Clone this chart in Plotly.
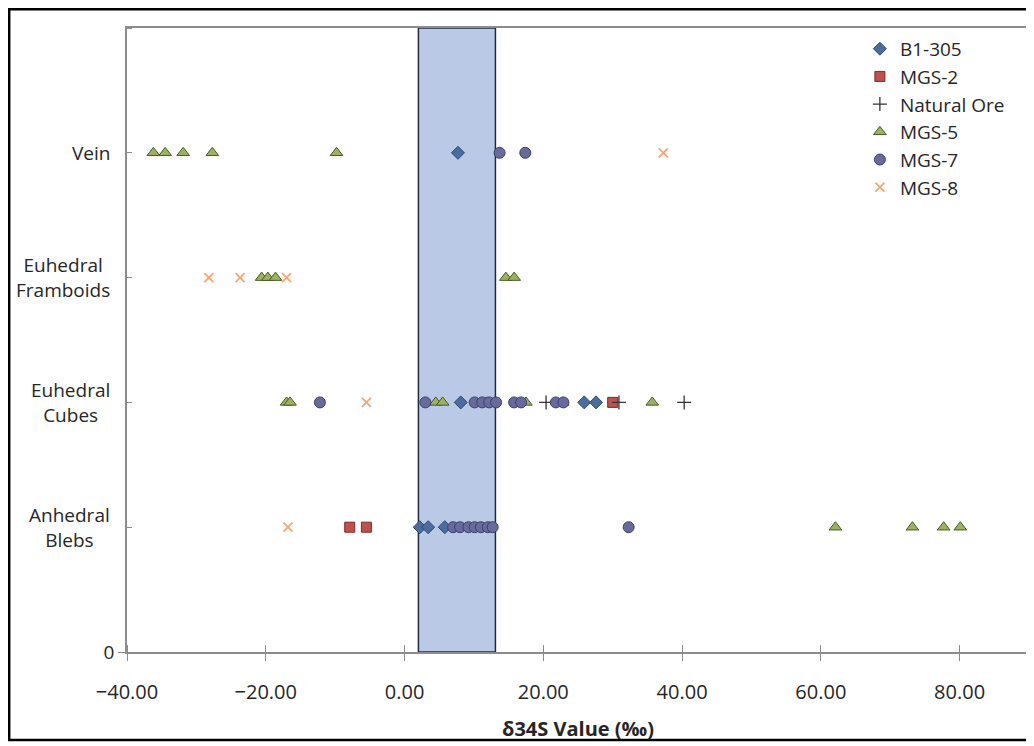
import plotly.graph_objects as go

# Category positions on the y axis
category_labels = ["Anhedral<br>Blebs", "Euhedral<br>Cubes", "Euhedral<br>Framboids", "Vein"]
category_keys = ["Blebs", "Cubes", "Framboids", "Vein"]
cat_pos = {k: i + 1 for i, k in enumerate(category_keys)}

# Series data: (category, d34S value)
b1_305_cat = ["Vein", "Cubes", "Cubes", "Cubes", "Blebs", "Blebs", "Blebs"]
b1_305_val = [7.7, 8.1, 25.9, 27.6, 2.2, 3.4, 5.8]

mgs2_cat = ["Cubes", "Blebs", "Blebs"]
mgs2_val = [30.0, -7.9, -5.5]

natural_cat = ["Cubes", "Cubes", "Cubes"]
natural_val = [20.4, 30.9, 40.3]

mgs5_cat = ["Vein"] * 5 + ["Framboids"] * 5 + ["Cubes"] * 8 + ["Blebs"] * 4
mgs5_val = [-36.2, -34.5, -31.9, -27.7, -9.8,
            -20.6, -19.7, -18.6, 14.6, 15.8,
            -17.0, -16.5, 4.5, 5.5, 11.8, 17.5, 22.8, 35.7,
            62.1, 73.2, 77.7, 80.1]

mgs7_cat = ["Vein"] * 2 + ["Cubes"] * 10 + ["Blebs"] * 8
mgs7_val = [13.7, 17.4,
            -12.2, 3.0, 10.1, 11.2, 12.2, 13.2, 15.8, 16.8, 21.8, 22.9,
            7.0, 8.0, 9.2, 10.1, 11.0, 12.0, 12.7, 32.3]

mgs8_cat = ["Vein", "Framboids", "Framboids", "Framboids", "Cubes", "Blebs"]
mgs8_val = [37.3, -28.2, -23.7, -17.0, -5.5, -16.8]

band_range = [2.0, 13.1]

x_ticks = [-40, -20, 0, 20, 40, 60, 80]
y_ticks = [0, 1, 2, 3, 4, 5]
y_ticklabels = ["0", "", "", "", "", ""]

FONT = "Open Sans"
TEXT = "#262626"
AXIS = "#8C8C8C"

fig = go.Figure()

series = [
    ("B1-305", b1_305_cat, b1_305_val,
     dict(symbol="diamond", size=10, color="#4A6D9E", line=dict(color="#2E4A72", width=1))),
    ("MGS-2", mgs2_cat, mgs2_val,
     dict(symbol="square", size=10, color="#C0504D", line=dict(color="#7E2A28", width=1))),
    ("Natural Ore", natural_cat, natural_val,
     dict(symbol="cross-thin", size=10, color="#333333", line=dict(color="#333333", width=1.3))),
    ("MGS-5", mgs5_cat, mgs5_val,
     dict(symbol="triangle-up", size=11, color="#9CB35E", line=dict(color="#4A5A26", width=1))),
    ("MGS-7", mgs7_cat, mgs7_val,
     dict(symbol="circle", size=11, color="#676A9C", line=dict(color="#3D3F6A", width=1))),
    ("MGS-8", mgs8_cat, mgs8_val,
     dict(symbol="x-thin", size=9, color="#F5A772", line=dict(color="#F5A772", width=1.8))),
]

for name, cats, vals, marker in series:
    fig.add_trace(go.Scatter(
        x=vals, y=[cat_pos[c] for c in cats], mode="markers", name=name,
        legendgroup=name, marker=marker,
    ))

# Shaded band
fig.add_shape(type="rect", xref="x", yref="y",
              x0=band_range[0], x1=band_range[1], y0=0, y1=5,
              fillcolor="#BACAE6", line=dict(color="#1E2A44", width=1.5),
              layer="below")

# Outer black frame
fig.add_shape(type="rect", xref="paper", yref="paper",
              x0=-0.1306, x1=1.0033, y0=-0.141, y1=1.0301,
              line=dict(color="black", width=2.5), fillcolor="rgba(0,0,0,0)")

# Category labels (centred two-line labels)
for key, label in zip(category_keys, category_labels):
    fig.add_annotation(x=-0.0166, xref="paper", y=cat_pos[key], yref="y",
                       text=label, showarrow=False, xanchor="right", yanchor="middle",
                       align="center", font=dict(family=FONT, size=19, color=TEXT))

fig.update_layout(
    width=1034, height=746,
    margin=dict(l=119, r=13, t=20, b=102),
    paper_bgcolor="white", plot_bgcolor="white",
    font=dict(family=FONT, size=19, color=TEXT),
    showlegend=True,
    legend=dict(x=0.8125, y=0.997, xanchor="left", yanchor="top",
                bgcolor="rgba(255,255,255,0)", font=dict(size=19, color=TEXT),
                tracegroupgap=0),
    xaxis=dict(range=[-40, 90], tickvals=x_ticks, tickformat=".2f",
               showgrid=False, zeroline=False,
               showline=True, linecolor=AXIS, linewidth=1.5, mirror=True,
               ticks="outside", ticklen=7, tickcolor=AXIS,
               minor=dict(tickvals=x_ticks, ticks="inside", ticklen=7, tickcolor=AXIS),
               ticklabelstandoff=14,
               tickfont=dict(size=20),
               title=dict(text="<b>δ34S Value (‰)</b>", font=dict(size=20, color=TEXT),
                          standoff=18)),
    yaxis=dict(range=[0, 5], tickvals=y_ticks, ticktext=y_ticklabels,
               showgrid=False, zeroline=False,
               showline=True, linecolor=AXIS, linewidth=1.5, mirror=True,
               ticks="outside", ticklen=7, tickcolor=AXIS,
               minor=dict(tickvals=y_ticks, ticks="inside", ticklen=5, tickcolor=AXIS),
               tickfont=dict(size=19)),
)

fig.write_html("out.html")
